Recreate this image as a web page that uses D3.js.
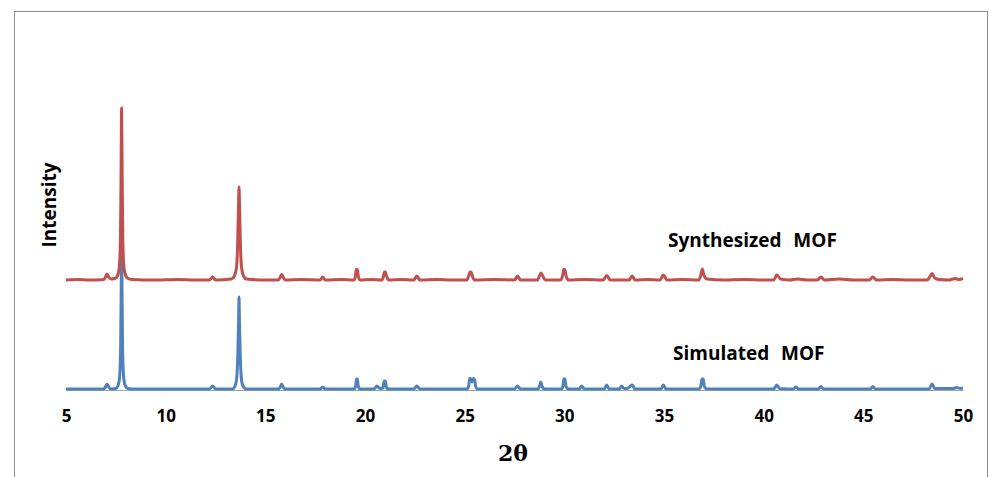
<!DOCTYPE html>
<html>
<head>
<meta charset="utf-8">
<script src="https://cdn.jsdelivr.net/npm/d3@7"></script>
<style>
  html, body { margin: 0; padding: 0; background: #fff; }
  svg text { font-family: "Open Sans", "Liberation Sans", sans-serif; fill: #000; }
</style>
</head>
<body>
<div id="chart"></div>
<script>
// 2-theta tick labels
var xTicks = [5, 10, 15, 20, 25, 30, 35, 40, 45, 50];

// series names
var seriesNames = ["Simulated  MOF", "Synthesized  MOF"];

// vertical offset of the synthesized pattern (a.u.)
var stackOffset = 109;

// simulated pattern: [2theta, intensity]
var simulated = [
  [5.0,0],[6.9,0],[6.98,2],[7.06,5],[7.14,2],[7.25,0],
  [7.5,0.5],[7.6,3],[7.68,10],[7.74,40],[7.77,100],[7.79,172],[7.81,100],[7.84,40],[7.9,10],[7.98,3],[8.1,0.5],[8.3,0],
  [12.2,0],[12.36,3],[12.5,0],
  [13.35,0],[13.48,3],[13.56,10],[13.62,35],[13.66,70],[13.68,92],[13.7,70],[13.74,35],[13.8,10],[13.88,3],[14.05,0],
  [15.65,0],[15.75,2],[15.82,5],[15.89,2],[16.0,0],
  [17.75,0],[17.88,2],[18.0,0],
  [19.45,0],[19.53,3],[19.57,10],[19.62,10],[19.66,3],[19.75,0],
  [20.45,0],[20.6,3],[20.75,0.5],[20.9,1],[20.96,8],[21.02,8],[21.08,1],[21.2,0],
  [22.45,0],[22.6,3],[22.75,0],
  [25.12,0],[25.2,3],[25.25,10.5],[25.32,10],[25.37,7],[25.43,10.5],[25.5,9],[25.56,2],[25.65,0],
  [27.5,0],[27.65,3],[27.8,0],
  [28.68,0],[28.76,3],[28.82,7],[28.88,3],[29.0,0],
  [29.85,0],[29.93,3],[29.97,10],[30.03,10],[30.08,3],[30.2,0],
  [30.75,0],[30.87,3],[31.0,0],
  [32.0,0],[32.13,4],[32.25,0],
  [32.75,0],[32.88,3],[33.0,0.5],[33.15,0.5],[33.4,4],[33.55,0],
  [34.85,0],[34.97,4],[35.1,0],
  [36.75,0],[36.85,3],[36.9,10],[36.97,10],[37.02,3],[37.15,0],
  [40.5,0],[40.66,4],[40.8,0.5],
  [41.5,0],[41.6,2],[41.75,0],
  [42.75,0],[42.87,2.5],[43.0,0],
  [45.35,0],[45.48,2.5],[45.6,0],
  [48.3,0],[48.45,5],[48.58,0.5],[49.5,0.5],[49.7,1.5],[49.85,0.5],[50.0,1]
];

// synthesized pattern: [2theta, intensity]
var synthesized = [
  [5.0,0],[5.6,0.5],[6.2,0],[6.9,0.5],[6.98,3],[7.06,6],[7.14,3],[7.25,1],
  [7.45,1.5],[7.58,4],[7.67,12],[7.73,40],[7.76,100],[7.79,172],[7.82,100],[7.85,40],[7.91,12],[8.0,4],[8.12,1.5],[8.3,0.5],
  [9.5,0],[10.6,0.5],[11.5,0],[12.2,0],[12.36,3],[12.5,0],
  [13.3,1],[13.45,4],[13.55,12],[13.61,35],[13.65,70],[13.68,93],[13.71,70],[13.75,35],[13.81,12],[13.91,4],[14.05,1],
  [15.0,0],[15.65,0],[15.75,3],[15.82,5.5],[15.89,3],[16.0,0],
  [16.8,0.5],[17.75,0],[17.88,3],[18.0,0],[18.8,0.5],
  [19.45,0],[19.52,4],[19.56,10.5],[19.62,10.5],[19.66,4],[19.75,0],
  [20.3,0.5],[20.85,0],[20.93,4],[20.98,8],[21.02,8],[21.08,4],[21.18,0],
  [21.8,0.5],[22.45,0],[22.6,4],[22.75,0],
  [23.6,0.5],[24.4,0],[25.1,0],[25.2,4],[25.27,8],[25.32,8],[25.4,3],[25.5,0],
  [26.5,0.5],[27.5,0],[27.65,4],[27.8,0],
  [28.65,0],[28.75,4],[28.83,7],[28.92,4],[29.05,0],
  [29.82,0],[29.92,5],[29.97,10.5],[30.02,10.5],[30.09,4],[30.2,0],
  [31.0,0.5],[31.95,0],[32.13,4.5],[32.3,0],
  [33.25,0],[33.4,4],[33.55,0],[34.2,0.5],
  [34.8,0],[34.97,5],[35.15,0],
  [35.9,0.5],[36.75,0],[36.85,5],[36.92,11],[37.0,5],[37.15,1],
  [38.0,0],[39.0,0.5],[40.0,0],[40.5,0],[40.66,5],[40.85,1],
  [41.3,0],[41.7,1],[42.2,0],[42.7,0],[42.87,3],[43.05,0],
  [43.8,1],[44.5,0],[45.3,0],[45.48,3],[45.65,0],
  [46.5,0.5],[47.3,0],[48.2,0],[48.33,3],[48.45,6.5],[48.58,2],[48.8,0.5],
  [49.3,0],[49.6,1.5],[49.8,0.5],[50.0,1.5]
];

var W = 989, H = 477;

var svg = d3.select("#chart")
  .append("svg")
  .attr("width", W)
  .attr("height", H);

svg.append("rect")
  .attr("width", W).attr("height", H)
  .attr("fill", "#fff");

// outer frame (only top and left edges are inside the picture)
svg.append("rect")
  .attr("x", 14.5).attr("y", 11.5)
  .attr("width", 973).attr("height", 480)
  .attr("fill", "none")
  .attr("stroke", "#8c8c8c")
  .attr("stroke-width", 1);

var x = d3.scaleLinear().domain([5, 50]).range([66, 963]);
var y = d3.scaleLinear().domain([0, 300]).range([389, 89]);

// x axis: gray line, no tick marks, bold labels
var xAxis = svg.append("g")
  .attr("transform", "translate(0,390)")
  .call(d3.axisBottom(x).tickValues(xTicks).tickSize(0).tickPadding(20).tickFormat(d3.format("d")));
xAxis.select(".domain").attr("stroke", "#a6a6a6");
xAxis.selectAll("text")
  .style("font-family", "'Open Sans', sans-serif")
  .style("font-size", "17px")
  .style("font-weight", "bold");

var line = d3.line()
  .x(function(d) { return x(d[0]); })
  .y(function(d) { return y(d[1]); })
  .curve(d3.curveMonotoneX);

// simulated first, synthesized on top
svg.append("path")
  .datum(simulated)
  .attr("fill", "none")
  .attr("stroke", "#4f81bd")
  .attr("stroke-width", 3)
  .attr("stroke-linejoin", "round")
  .attr("d", line);

svg.append("path")
  .datum(synthesized.map(function(d) { return [d[0], d[1] + stackOffset]; }))
  .attr("fill", "none")
  .attr("stroke", "#c0504d")
  .attr("stroke-width", 3)
  .attr("stroke-linejoin", "round")
  .attr("d", line);

// series labels
svg.append("text")
  .attr("x", 668).attr("y", 247)
  .attr("xml:space", "preserve")
  .style("white-space", "pre")
  .style("word-spacing", "1px")
  .style("font-size", "19px")
  .style("font-weight", "bold")
  .text(seriesNames[1]);

svg.append("text")
  .attr("x", 673).attr("y", 360)
  .attr("xml:space", "preserve")
  .style("white-space", "pre")
  .style("word-spacing", "1px")
  .style("font-size", "19px")
  .style("font-weight", "bold")
  .text(seriesNames[0]);

// axis titles
svg.append("text")
  .attr("transform", "translate(56,205) rotate(-90)")
  .attr("text-anchor", "middle")
  .style("font-size", "19px")
  .style("font-weight", "bold")
  .text("Intensity");

svg.append("text")
  .attr("x", 513).attr("y", 461)
  .attr("text-anchor", "middle")
  .style("font-family", "'DejaVu Serif', serif")
  .style("font-size", "22px")
  .style("font-weight", "bold")
  .text("2θ");
</script>
</body>
</html>
